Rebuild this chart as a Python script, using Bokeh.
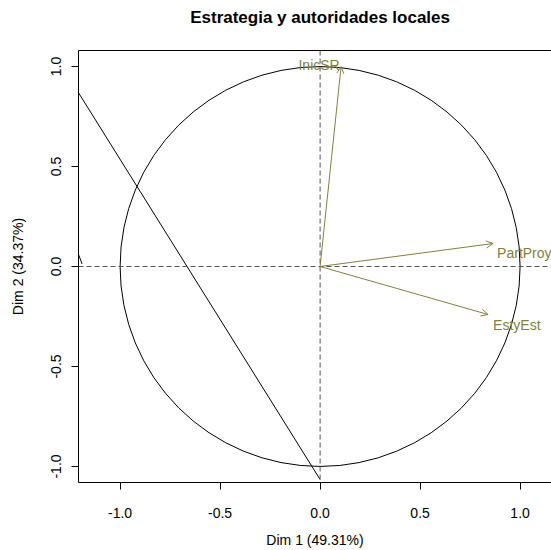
from bokeh.plotting import figure
from bokeh.models import (Range1d, Span, Arrow, OpenHead, LinearAxis, FixedTicker,
                          ColumnDataSource, NumeralTickFormatter)
from bokeh.embed import file_html
from bokeh.resources import INLINE
from bokeh.core.properties import value

# ---- data ----
var_names = ["InicSR", "PartProy", "EstyEst"]
dim1 = [0.105, 0.865, 0.84]
dim2 = [1.0, 0.115, -0.24]

x_ticks = [-1.0, -0.5, 0.0, 0.5, 1.0]
y_ticks = [-1.0, -0.5, 0.0, 0.5, 1.0]

# stray line segments present in the original figure
seg_x0 = [-1.21, -1.21]
seg_y0 = [0.872, 0.066]
seg_x1 = [0.0, -1.19]
seg_y1 = [-1.065, 0.013]

title_text = "Estrategia y autoridades locales"
xlab = "Dim 1 (49.31%)"
ylab = "Dim 2 (34.37%)"

# ---- style ----
FONT = "Liberation Sans"
OLIVE = "#808040"

p = figure(width=551, height=550,
           x_range=Range1d(-1.208, 1.157), y_range=Range1d(-1.08, 1.08),
           output_backend="svg", toolbar_location=None,
           min_border_left=78, min_border_right=0,
           min_border_top=50, min_border_bottom=68)
p.grid.visible = False
p.outline_line_color = None
p.background_fill_color = "white"
p.border_fill_color = "white"

for ax, ticks in ((p.xaxis[0], x_ticks), (p.yaxis[0], y_ticks)):
    ax.ticker = FixedTicker(ticks=ticks)
    ax.formatter = NumeralTickFormatter(format="0.0")
    ax.minor_tick_line_color = None
    ax.major_tick_in = 0
    ax.major_tick_out = 7
    ax.axis_line_color = "black"
    ax.major_tick_line_color = "black"
    ax.major_label_text_font = FONT
    ax.major_label_text_font_size = "14px"
    ax.major_label_text_color = "black"
    ax.axis_label_text_font = FONT
    ax.axis_label_text_font_size = "14px"
    ax.axis_label_text_font_style = "normal"
    ax.axis_label_text_color = "black"

p.xaxis[0].axis_label = xlab
p.xaxis[0].major_label_standoff = 18
p.xaxis[0].axis_label_standoff = 11
p.yaxis[0].axis_label = ylab
p.yaxis[0].major_label_orientation = "vertical"
p.yaxis[0].major_label_standoff = 11
p.yaxis[0].axis_label_standoff = 22

# top border of the box; its single label at x = 0 carries the main title
top_axis = LinearAxis(ticker=FixedTicker(ticks=[0]), major_tick_out=0, major_tick_in=0,
                      minor_tick_line_color=None, axis_line_color="black",
                      major_tick_line_color=None,
                      major_label_overrides={0: title_text},
                      major_label_standoff=24,
                      major_label_text_font=FONT,
                      major_label_text_font_size="17px",
                      major_label_text_font_style="bold",
                      major_label_text_color="black")
p.add_layout(top_axis, "above")

# dashed reference lines
p.add_layout(Span(location=0, dimension="width", line_color="#555555",
                  line_dash="5 3", line_width=1))
p.add_layout(Span(location=0, dimension="height", line_color="#555555",
                  line_dash="5 3", line_width=1))

# correlation circle
p.ellipse(x=[0], y=[0], width=[2], height=[2], fill_color=None,
          line_color="black", line_width=1)

# stray segments
p.segment(x0=seg_x0, y0=seg_y0, x1=seg_x1, y1=seg_y1, line_color="black", line_width=1)

# arrows
arrow_src = ColumnDataSource(dict(x0=[0] * len(dim1), y0=[0] * len(dim2), x1=dim1, y1=dim2))
p.add_layout(Arrow(source=arrow_src, x_start="x0", y_start="y0", x_end="x1", y_end="y1",
                   line_color=OLIVE, line_width=1,
                   end=OpenHead(size=7, line_color=OLIVE, line_width=1)))

# variable labels
p.text(x=dim1, y=dim2, text=var_names,
       x_offset=[-22, 4, 5], y_offset=[-2, 9, 10],
       text_align=["center", "left", "left"], text_baseline="middle",
       text_color=OLIVE, text_font=value(FONT), text_font_size="14px")

open("out.html", "w").write(file_html(p, INLINE))
